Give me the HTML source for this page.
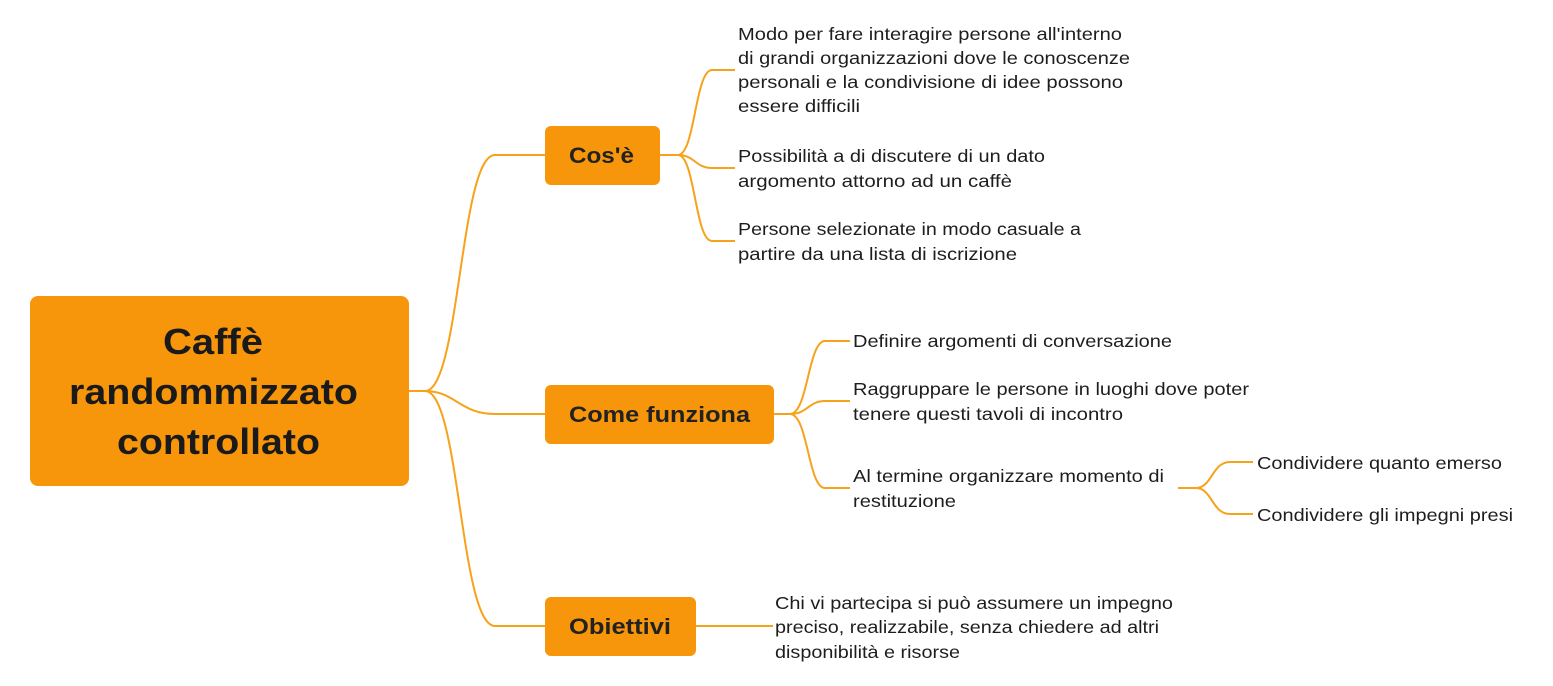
<!DOCTYPE html>
<html><head><meta charset="utf-8"><style>
html,body{margin:0;padding:0;background:#fff;}
svg{display:block}
text{font-family:"Liberation Sans",sans-serif;fill:#1d1d1d}
.t{font-size:17.5px}
.b{font-size:22px;font-weight:bold;fill:#222}
.r{font-size:36px;font-weight:bold;fill:#1a1a1a}
</style></head><body>
<svg width="1553" height="686" viewBox="0 0 1553 686" xmlns="http://www.w3.org/2000/svg">
<g fill="none" stroke="#F7A21B" stroke-width="2">
<path d="M409 391 H425 C460 391 460 155 495 155 H545"/>
<path d="M409 391 H425 C455 391 460 414 495 414 H545"/>
<path d="M409 391 H425 C460 391 460 626 495 626 H545"/>
<path d="M660 155 H678 C695 155 695 70 712 70 H735"/>
<path d="M678 155 C695 155 695 168 712 168 H735"/>
<path d="M678 155 C695 155 695 241 712 241 H735"/>
<path d="M774 414 H790 C808 414 808 341 825 341 H850"/>
<path d="M790 414 C808 414 808 401 825 401 H850"/>
<path d="M790 414 C808 414 808 488 825 488 H850"/>
<path d="M1178 488 H1196 C1212 488 1212 462 1230 462 H1253"/>
<path d="M1196 488 C1212 488 1212 514 1230 514 H1253"/>
<path d="M696 626 H773"/>
</g>
<rect x="30" y="296" width="379" height="190" rx="8" fill="#F7960A"/>
<text class="r" x="163" y="354" textLength="100" lengthAdjust="spacingAndGlyphs">Caffè</text>
<text class="r" x="69" y="404" textLength="289" lengthAdjust="spacingAndGlyphs">randommizzato</text>
<text class="r" x="117" y="454" textLength="203" lengthAdjust="spacingAndGlyphs">controllato</text>
<rect x="545" y="126" width="115" height="59" rx="6" fill="#F7960A"/>
<text class="b" x="569" y="163" textLength="65" lengthAdjust="spacingAndGlyphs">Cos'è</text>
<rect x="545" y="385" width="229" height="59" rx="6" fill="#F7960A"/>
<text class="b" x="569" y="422" textLength="181" lengthAdjust="spacingAndGlyphs">Come funziona</text>
<rect x="545" y="597" width="151" height="59" rx="6" fill="#F7960A"/>
<text class="b" x="569" y="634" textLength="102" lengthAdjust="spacingAndGlyphs">Obiettivi</text>
<text class="t" x="738" y="40" textLength="384" lengthAdjust="spacingAndGlyphs">Modo per fare interagire persone all'interno</text>
<text class="t" x="738" y="64" textLength="392" lengthAdjust="spacingAndGlyphs">di grandi organizzazioni dove le conoscenze</text>
<text class="t" x="738" y="88" textLength="385" lengthAdjust="spacingAndGlyphs">personali e  la condivisione di idee possono</text>
<text class="t" x="738" y="112" textLength="122" lengthAdjust="spacingAndGlyphs">essere difficili</text>
<text class="t" x="738" y="162" textLength="307" lengthAdjust="spacingAndGlyphs">Possibilità a di discutere di un dato</text>
<text class="t" x="738" y="187" textLength="274" lengthAdjust="spacingAndGlyphs">argomento attorno ad un caffè</text>
<text class="t" x="738" y="235" textLength="343" lengthAdjust="spacingAndGlyphs">Persone selezionate in modo casuale a</text>
<text class="t" x="738" y="260" textLength="279" lengthAdjust="spacingAndGlyphs">partire da una lista di  iscrizione</text>
<text class="t" x="853" y="347" textLength="319" lengthAdjust="spacingAndGlyphs">Definire argomenti di conversazione</text>
<text class="t" x="853" y="395" textLength="396" lengthAdjust="spacingAndGlyphs">Raggruppare le persone in luoghi dove poter</text>
<text class="t" x="853" y="420" textLength="270" lengthAdjust="spacingAndGlyphs">tenere questi tavoli di incontro</text>
<text class="t" x="853" y="482" textLength="311" lengthAdjust="spacingAndGlyphs">Al termine organizzare momento di</text>
<text class="t" x="853" y="507" textLength="103" lengthAdjust="spacingAndGlyphs">restituzione</text>
<text class="t" x="1257" y="469" textLength="245" lengthAdjust="spacingAndGlyphs">Condividere quanto emerso</text>
<text class="t" x="1257" y="521" textLength="256" lengthAdjust="spacingAndGlyphs">Condividere gli impegni presi</text>
<text class="t" x="775" y="609" textLength="398" lengthAdjust="spacingAndGlyphs">Chi vi partecipa si può assumere un impegno</text>
<text class="t" x="775" y="633" textLength="384" lengthAdjust="spacingAndGlyphs">preciso, realizzabile, senza chiedere ad altri</text>
<text class="t" x="775" y="658" textLength="185" lengthAdjust="spacingAndGlyphs">disponibilità e risorse</text>
</svg>
</body></html>
